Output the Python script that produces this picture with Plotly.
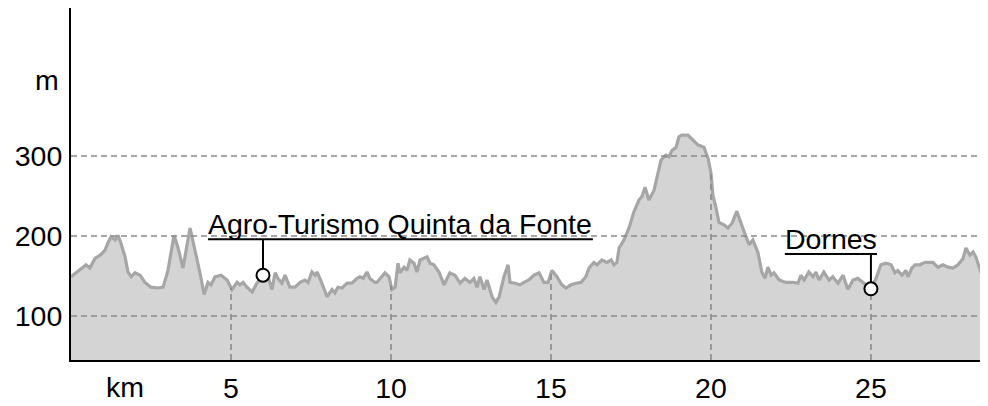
import numpy as np
import plotly.graph_objects as go

# ---- data ----
km = [0.00, 0.16, 0.38, 0.47, 0.59, 0.75, 0.91, 1.06, 1.16, 1.25, 1.38, 1.47, 1.56, 1.69, 1.78, 1.88,
      2.00, 2.16, 2.31, 2.50, 2.72, 2.88, 3.03, 3.22, 3.34, 3.50, 3.72, 3.88, 4.03, 4.16, 4.28, 4.38,
      4.50, 4.69, 4.88, 5.03, 5.19, 5.28, 5.38, 5.50, 5.66, 5.81, 6.00, 6.16, 6.28, 6.38, 6.47, 6.59,
      6.69, 6.84, 7.00, 7.16, 7.31, 7.41, 7.53, 7.63, 7.69, 7.84, 8.00, 8.16, 8.25, 8.34, 8.47, 8.63,
      8.78, 8.94, 9.03, 9.13, 9.25, 9.34, 9.50, 9.56, 9.81, 9.94, 10.03, 10.13, 10.22, 10.28, 10.41,
      10.50, 10.59, 10.72, 10.81, 10.91, 11.03, 11.13, 11.22, 11.34, 11.50, 11.66, 11.84, 12.00, 12.16,
      12.31, 12.47, 12.59, 12.69, 12.78, 12.91, 13.00, 13.16, 13.28, 13.38, 13.53, 13.66, 13.72, 13.88,
      14.03, 14.16, 14.31, 14.47, 14.63, 14.78, 14.91, 15.03, 15.19, 15.34, 15.47, 15.63, 15.78, 15.94,
      16.09, 16.19, 16.34, 16.44, 16.59, 16.75, 16.88, 16.97, 17.06, 17.13, 17.28, 17.44, 17.59, 17.75,
      17.84, 17.94, 18.06, 18.22, 18.31, 18.44, 18.59, 18.69, 18.78, 18.91, 19.00, 19.09, 19.28, 19.44,
      19.59, 19.78, 19.91, 20.00, 20.06, 20.16, 20.25, 20.41, 20.53, 20.66, 20.81, 20.94, 21.09, 21.19,
      21.31, 21.47, 21.59, 21.69, 21.78, 21.88, 21.97, 22.13, 22.34, 22.56, 22.72, 22.81, 22.91, 23.06,
      23.19, 23.28, 23.38, 23.53, 23.69, 23.81, 23.97, 24.13, 24.28, 24.44, 24.59, 24.75, 24.84, 25.00,
      25.16, 25.31, 25.47, 25.63, 25.75, 25.84, 25.97, 26.09, 26.16, 26.28, 26.38, 26.53, 26.69, 26.94,
      27.09, 27.25, 27.41, 27.56, 27.72, 27.88, 27.97, 28.09, 28.19, 28.28, 28.44]
elevation = [149, 154, 161, 164, 160, 172, 176, 182, 192, 199, 195, 201, 191, 174, 155, 149,
             154, 151, 142, 136, 135, 136, 157, 201, 186, 160, 210, 182, 154, 127, 142, 139,
             149, 151, 145, 133, 142, 139, 142, 136, 130, 141, 151, 149, 133, 154, 147, 141,
             151, 136, 136, 142, 145, 142, 155, 151, 155, 141, 124, 133, 129, 136, 135, 141,
             141, 147, 149, 147, 155, 147, 142, 142, 154, 149, 133, 136, 166, 154, 161,
             157, 170, 166, 155, 170, 172, 174, 166, 164, 155, 139, 154, 151, 141,
             147, 142, 147, 136, 149, 133, 145, 124, 117, 124, 149, 164, 142, 141,
             139, 142, 145, 151, 154, 142, 142, 157, 149, 139, 135, 139, 141, 142,
             149, 160, 167, 164, 170, 167, 170, 164, 167, 185, 195, 210, 230, 245,
             249, 261, 245, 257, 274, 295, 301, 299, 307, 311, 324, 326, 326, 320,
             314, 311, 297, 279, 251, 235, 217, 214, 210, 216, 231, 216, 201, 189,
             195, 179, 155, 147, 161, 151, 154, 145, 142, 142, 141, 151, 145, 155,
             149, 155, 145, 155, 145, 149, 141, 151, 133, 145, 147, 142, 139, 134,
             147, 164, 166, 164, 154, 157, 151, 157, 149, 160, 164, 164, 167, 167,
             161, 164, 161, 160, 164, 172, 185, 176, 180, 174, 154]

x_ticks = [5, 10, 15, 20, 25]
y_ticks = [100, 200, 300]

poi_names = ["Agro-Turismo Quinta da Fonte", "Dornes"]
poi_km = [6.0, 25.0]
poi_elev = [151, 134]
label_left = [4.28, 22.31]     # km where label underline starts
label_right = [16.31, 25.19]   # km where label underline ends
label_y = [196, 177.5]         # elevation of underline

X_MIN, X_MAX = 0, km[-1]
Y_MIN, Y_MAX = 45, 485

FONT = "Liberation Sans, Arial, sans-serif"
FS = 28.5
GRID = "#8a8a8a"

fig = go.Figure()

# profile area
fig.add_trace(go.Scatter(x=km, y=elevation, mode="lines",
                         line=dict(color="#a6a6a6", width=3.2),
                         fill="tozeroy", fillcolor="#d4d4d4",
                         hoverinfo="skip", showlegend=False))

# horizontal dashed grid (over the fill)
hx, hy = [], []
for v in y_ticks:
    hx += [X_MIN, X_MAX, None]
    hy += [v, v, None]
fig.add_trace(go.Scatter(x=hx, y=hy, mode="lines",
                         line=dict(color=GRID, width=1.6, dash="6px,4px"),
                         hoverinfo="skip", showlegend=False))

# vertical dashed grid, from the floor up to the profile
vx, vy = [], []
for t in x_ticks:
    top = float(np.interp(t, km, elevation))
    vx += [t, t, None]
    vy += [Y_MIN, top, None]
fig.add_trace(go.Scatter(x=vx, y=vy, mode="lines",
                         line=dict(color=GRID, width=1.6, dash="6px,4px"),
                         hoverinfo="skip", showlegend=False))

# right edge of profile
fig.add_trace(go.Scatter(x=[km[-1], km[-1]], y=[elevation[-1], Y_MIN], mode="lines",
                         line=dict(color="black", width=2),
                         hoverinfo="skip", showlegend=False))

# POI underlines + leaders
for name, pk, pe, l, r, ly in zip(poi_names, poi_km, poi_elev, label_left, label_right, label_y):
    fig.add_trace(go.Scatter(x=[l, r, None, pk, pk], y=[ly, ly, None, ly, pe],
                             mode="lines", line=dict(color="black", width=2),
                             hoverinfo="skip", showlegend=False))
    fig.add_annotation(x=(l + r) / 2, y=ly, xref="x", yref="y", text=name,
                       showarrow=False, xanchor="center", yanchor="bottom", yshift=-3,
                       font=dict(family=FONT, size=FS, color="black"))

fig.add_trace(go.Scatter(x=poi_km, y=poi_elev, mode="markers",
                         marker=dict(size=13, color="white", line=dict(color="black", width=2)),
                         hoverinfo="skip", showlegend=False))

# unit labels
fig.add_annotation(x=-0.026, xref="paper", y=395, yref="y", text="m", showarrow=False,
                   xanchor="center", yanchor="middle", font=dict(family=FONT, size=FS, color="black"))
fig.add_annotation(x=1.69, xref="x", y=-0.077, yref="paper", text="km", showarrow=False,
                   xanchor="center", yanchor="middle", font=dict(family=FONT, size=FS, color="black"))

fig.update_xaxes(range=[X_MIN, X_MAX], tickvals=x_ticks, ticktext=[str(t) for t in x_ticks],
                 showgrid=False, zeroline=False, showline=True, linecolor="black", linewidth=2,
                 ticks="outside", ticklen=2, tickcolor="rgba(0,0,0,0)", automargin=False,
                 tickfont=dict(family=FONT, size=FS, color="black"))
fig.update_yaxes(range=[Y_MIN, Y_MAX], tickvals=y_ticks, ticktext=[str(t) for t in y_ticks],
                 showgrid=False, zeroline=False, showline=True, linecolor="black", linewidth=2,
                 ticks="outside", ticklen=1, tickcolor="rgba(0,0,0,0)", automargin=False,
                 tickfont=dict(family=FONT, size=FS, color="black"))

# page body has an 8px margin, so the figure is sized/offset to land on the 988x406 window
fig.update_layout(width=980, height=398, margin=dict(l=63, r=7, t=0, b=46, autoexpand=False),
                  paper_bgcolor="white", plot_bgcolor="white", showlegend=False,
                  font=dict(family=FONT))

fig.write_html("out.html")
